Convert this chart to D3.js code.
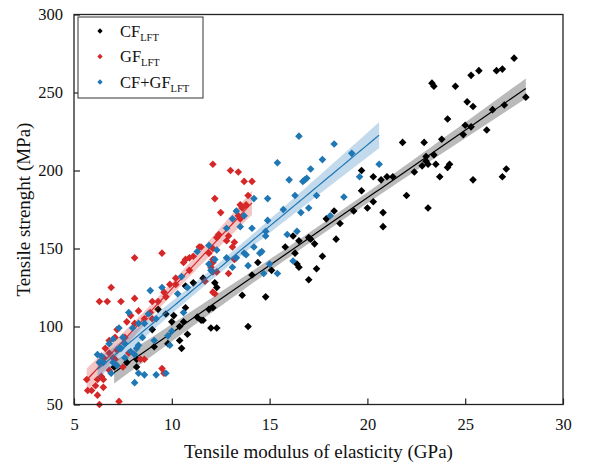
<!DOCTYPE html>
<html>
<head>
<meta charset="utf-8">
<script src="https://cdn.jsdelivr.net/npm/d3@7"></script>
<style>
  body { margin: 0; background: #fff; }
  svg text { font-family: "Liberation Serif", "Times New Roman", serif; fill: #111; }
</style>
</head>
<body>
<script>
// values: [modulus GPa, strength MPa]
const cfPoints = [
  [27.5,272],[26.9,265],[26.6,264],[25.7,264],[25.3,261],[23.3,256],[23.4,254],[24.5,254],[25.1,244],[25.4,241],
  [24.1,233],[26.4,239],[27.0,242],[28.1,247],[25.0,229],[25.3,228],[24.9,223],[26.1,226],[23.8,220],[22.9,218],
  [21.8,218],[23.4,210],[23.0,209],[23.0,206],[23.1,204],[22.8,203],[23.5,204],[22.4,199],[24.2,204],[24.1,202],
  [23.7,196],[25.4,194],[27.1,201],[26.9,196],[22.0,184],[23.1,176],
  [19.7,200],[20.3,196],[20.7,194],[21.0,196],[21.3,196],[19.7,187],[20.3,180],[20.0,176],[19.3,174],[20.8,173],
  [18.3,174],[17.9,169],[18.6,166],[20.8,164],[18.4,156],[17.7,145],
  [17.0,157],[17.1,156],[17.3,153],[16.2,158],[16.5,155],[15.8,151],[16.3,147],[16.4,140],[16.5,138],[17.4,137],
  [17.0,130],[15.1,136],[14.4,141],[14.1,133],[11.6,131],
  [12.2,128],[12.3,125],[13.6,120],[14.8,119],[12.1,112],[11.9,111],[11.6,104],[12.0,99],[12.3,99],[13.9,100],
  [10.7,126],[11.1,128],[9.7,108],[10.1,107],[10.0,103],[10.6,103],[11.3,106],[11.5,104],[10.4,100],[9.0,98],
  [10.4,91],[9.8,89],[10.5,86],[9.1,87],[7.7,77],[8.2,79],[8.2,74],[7.05,74],[9.3,111],[10.7,112],[10.8,95]
];

const gfPoints = [
  [8.1,144],[9.5,147],[6.9,125],[6.3,116],[6.7,116],[7.4,116],[8.1,118],[8.3,110],[9.0,116],[9.3,116],
  [9.9,127],[10.7,143],[10.9,144],[11.1,145],[10.6,141],[11.4,151],[10.9,136],[10.2,131],
  [12.1,204],[13.0,200],[13.4,199],[13.7,193],[14.1,193],[13.9,184],[12.2,182],[13.5,178],[13.6,176],[13.8,178],
  [12.5,173],[13.4,171],[13.5,169],[12.9,158],[12.8,155],[13.2,154],[13.1,151],[12.3,157],[12.4,159],[12.1,150],
  [11.9,147],[12.1,143],[12.1,141],[12.0,138],[12.9,134],[11.5,151],[13.2,143],[12.1,135],[12.3,135],[11.7,129],
  [12.1,122],[12.2,121],
  [9.7,119],[9.0,105],[8.1,102],[6.8,91],[7.6,93],[6.6,86],[6.8,83],[6.5,80],[7.1,79],[7.8,83],
  [8.4,79],[7.5,74],[6.8,72],[6.5,66],[6.2,66],[5.9,59],[5.7,59],[6.1,62],[6.2,56],[6.5,61],
  [7.3,52],[6.3,50],[9.5,73],[9.6,70],[10.2,127],
  [7.9,107],[7.7,103],[7.2,98],[7.1,93],[8.6,105],[8.9,109],[9.6,122],[6.3,77],[7.0,80],[7.2,85],
  [8.6,79],[6.4,68],[5.65,66]
];

const hybridPoints = [
  [16.5,222],[15.4,205],[17.1,201],[16.0,194],[16.7,193],[16.8,194],[16.9,195],[16.3,184],[14.9,182],[14.2,182],
  [15.7,175],[17.0,176],[16.6,173],[13.3,174],[13.7,171],[13.1,169],[14.9,168],[13.5,164],[12.8,163],[14.1,163],
  [16.4,161],[15.9,159],[14.8,161],[14.8,158],[14.2,151],[14.6,148],[14.5,147],[13.7,147],[13.8,146],[16.2,142],
  [12.8,144],[13.3,144],[12.2,143],[15.0,140],[13.9,139],[13.1,138],[14.7,134],[15.4,134],[12.0,136],
  [18.3,217],[19.2,211],[17.7,207],[20.6,204],[19.6,196],[17.4,184],[18.8,183],[18.1,171],
  [11.9,152],[12.3,149],[11.3,148],[11.9,140],[10.5,132],[8.9,123],[9.5,125],[7.8,109],[8.8,108],[10.8,125],
  [10.3,121],[8.3,102],[8.0,99],[7.5,93],[7.6,89],[7.0,92],[6.4,81],[6.8,89],[7.3,86],[7.9,84],
  [8.3,88],[8.5,93],[7.0,77],[6.5,77],[8.1,82],[8.6,102],[9.2,105],[10.0,97],[9.8,94],[9.1,91],
  [9.9,88],[8.3,70],[8.6,69],[9.2,69],[9.7,70],[8.1,64],[10.6,109],[7.3,99],[7.4,86],[8.2,86],
  [6.2,82],[6.3,77],[7.2,75],[7.6,80],[6.9,70]
];

const xTicks = [5, 10, 15, 20, 25, 30];
const yTicks = [50, 100, 150, 200, 250, 300];

const seriesNames = ["CF", "GF", "CF+GF"];
const seriesSub = "LFT";
const seriesColors = ["#000000", "#d62728", "#1f77b4"];

const width = 598, height = 466;
const margin = { top: 14.5, right: 35, bottom: 61.5, left: 74 };

const svg = d3.select("body").append("svg")
  .attr("width", width)
  .attr("height", height);

const x = d3.scaleLinear().domain([5, 30]).range([margin.left, width - margin.right]);
const y = d3.scaleLinear().domain([50, 300]).range([height - margin.bottom, margin.top]);

// least squares fit + 95% confidence band
function fitLine(pts) {
  const n = pts.length;
  const mx = d3.mean(pts, d => d[0]), my = d3.mean(pts, d => d[1]);
  const sxx = d3.sum(pts, d => (d[0] - mx) ** 2);
  const sxy = d3.sum(pts, d => (d[0] - mx) * (d[1] - my));
  const b = sxy / sxx, a = my - b * mx;
  const s = Math.sqrt(d3.sum(pts, d => (d[1] - a - b * d[0]) ** 2) / (n - 2));
  const [x0, x1] = d3.extent(pts, d => d[0]);
  return d3.range(0, 61).map(i => {
    const xv = x0 + (x1 - x0) * i / 60;
    const yh = a + b * xv;
    const se = 1.98 * s * Math.sqrt(1 / n + (xv - mx) ** 2 / sxx);
    return { x: xv, y: yh, lo: yh - se, hi: yh + se };
  });
}

const diamond = d3.symbol(d3.symbolSquare, 29);
const plot = svg.append("g");

[cfPoints, gfPoints, hybridPoints].forEach((pts, i) => {
  const color = seriesColors[i];
  plot.append("g").selectAll("path")
    .data(pts)
    .enter().append("path")
    .attr("d", diamond)
    .attr("transform", d => `translate(${x(d[0])},${y(d[1])}) rotate(45)`)
    .attr("fill", color);

  const fit = fitLine(pts);
  plot.append("path")
    .datum(fit)
    .attr("fill", color)
    .attr("fill-opacity", 0.27)
    .attr("d", d3.area().x(d => x(d.x)).y0(d => y(d.lo)).y1(d => y(d.hi)));
  plot.append("path")
    .datum(fit)
    .attr("fill", "none")
    .attr("stroke", color)
    .attr("stroke-width", 1.2)
    .attr("d", d3.line().x(d => x(d.x)).y(d => y(d.y)));
});

// axes
const xAxis = svg.append("g")
  .attr("transform", `translate(0,${y.range()[0]})`)
  .call(d3.axisBottom(x).tickValues(xTicks).tickSize(-6).tickSizeOuter(0).tickPadding(14));
const yAxis = svg.append("g")
  .attr("transform", `translate(${x.range()[0]},0)`)
  .call(d3.axisLeft(y).tickValues(yTicks).tickSize(-6).tickSizeOuter(0).tickPadding(11));

[xAxis, yAxis].forEach(g => {
  g.select(".domain").remove();
  g.attr("font-family", null);
  g.selectAll(".tick line").attr("stroke", "#222").attr("stroke-width", 1.2);
  g.selectAll("text").attr("font-size", 16.5).attr("fill", "#111");
});

svg.append("rect")
  .attr("x", x.range()[0])
  .attr("y", y.range()[1])
  .attr("width", x.range()[1] - x.range()[0])
  .attr("height", y.range()[0] - y.range()[1])
  .attr("fill", "none")
  .attr("stroke", "#222")
  .attr("stroke-width", 1.3);

svg.append("text")
  .attr("x", (x.range()[0] + x.range()[1]) / 2)
  .attr("y", 458)
  .attr("text-anchor", "middle")
  .attr("font-size", 19)
  .text("Tensile modulus of elasticity (GPa)");

svg.append("text")
  .attr("transform", `translate(30,${(y.range()[0] + y.range()[1]) / 2}) rotate(-90)`)
  .attr("text-anchor", "middle")
  .attr("font-size", 19)
  .text("Tensile strenght (MPa)");

// legend
const legend = svg.append("g");
legend.append("rect")
  .attr("x", 78).attr("y", 17)
  .attr("width", 125).attr("height", 81)
  .attr("fill", "#fff")
  .attr("stroke", "#333")
  .attr("stroke-width", 1);

seriesNames.forEach((name, i) => {
  const cy = 31 + i * 25.5;
  legend.append("path")
    .attr("d", d3.symbol(d3.symbolSquare, 14))
    .attr("transform", `translate(100,${cy}) rotate(45)`)
    .attr("fill", seriesColors[i]);
  const t = legend.append("text")
    .attr("x", 120)
    .attr("y", cy + 5.5)
    .attr("font-size", 16.5);
  t.append("tspan").text(name);
  t.append("tspan").attr("font-size", 10.5).attr("dy", 4).text(seriesSub);
});
</script>
</body>
</html>
